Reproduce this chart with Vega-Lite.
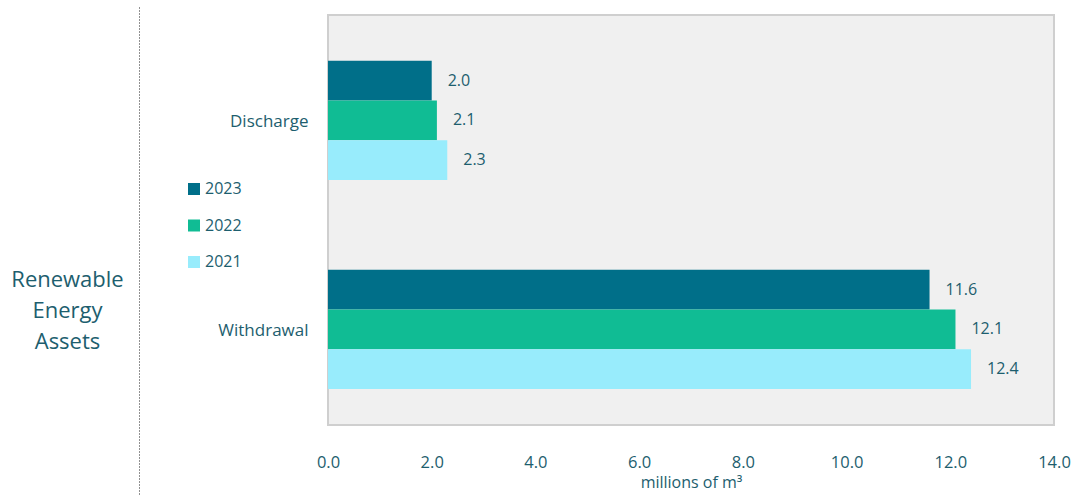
{
  "$schema": "https://vega.github.io/schema/vega-lite/v6.json",
  "width": 726,
  "height": 410,
  "autosize": {"type": "none"},
  "padding": {"left": 328, "top": 15, "right": 21, "bottom": 71},
  "background": "white",
  "config": {
    "font": "Open Sans",
    "view": {"fill": "#f0f0f0", "stroke": "#cfcfcf", "strokeWidth": 2},
    "axis": {"grid": false, "ticks": false, "domain": false, "labelColor": "#1d5e6e", "titleColor": "#1d5e6e", "labelFontSize": 16, "titleFontWeight": "normal"}
  },
  "data": {
    "values": [
      {"type": "Discharge", "year": "2023", "value": 2.0},
      {"type": "Discharge", "year": "2022", "value": 2.1},
      {"type": "Discharge", "year": "2021", "value": 2.3},
      {"type": "Withdrawal", "year": "2023", "value": 11.6},
      {"type": "Withdrawal", "year": "2022", "value": 12.1},
      {"type": "Withdrawal", "year": "2021", "value": 12.4}
    ]
  },
  "layer": [
    {
      "data": {"values": [{"group": "Renewable Energy Assets"}]},
      "mark": {"type": "text", "text": ""},
      "encoding": {
        "y": {
          "field": "group",
          "type": "nominal",
          "scale": {"range": [-8, 480]},
          "axis": {
            "orient": "left",
            "offset": 189,
            "domain": true,
            "domainDash": [1, 2],
            "domainColor": "#222222",
            "domainWidth": 1,
            "labels": false,
            "ticks": false,
            "title": ["Renewable", "Energy", "Assets"],
            "titleAngle": 0,
            "titleAlign": "center",
            "titleBaseline": "middle",
            "titleX": -72,
            "titleY": 264,
            "titleFontSize": 22,
            "titleLineHeight": 31,
            "titleColor": "#1d5e6e"
          }
        }
      }
    },
    {
      "encoding": {
        "y": {
          "field": "type",
          "type": "nominal",
          "scale": {"paddingInner": 0.43, "paddingOuter": 0.196, "align": 0.56},
          "axis": {"orient": "left", "title": null, "labelPadding": 20, "labelFontSize": 17, "labelOffset": 2}
        },
        "yOffset": {
          "field": "year",
          "type": "nominal",
          "sort": ["2023", "2022", "2021"],
          "scale": {"paddingInner": 0, "paddingOuter": 0}
        },
        "x": {
          "field": "value",
          "type": "quantitative",
          "scale": {"domain": [0, 14], "nice": false},
          "axis": {
            "values": [0, 2, 4, 6, 8, 10, 12, 14],
            "format": ".1f",
            "labelFlush": false,
            "labelFontSize": 16.5,
            "labelPadding": 29,
            "title": "millions of m³",
            "titleFontSize": 16,
            "titlePadding": 4
          }
        }
      },
      "layer": [
        {
          "mark": {"type": "bar"},
          "encoding": {
            "color": {
              "field": "year",
              "type": "nominal",
              "scale": {"domain": ["2023", "2022", "2021"], "range": ["#006f89", "#10bc94", "#98ecfc"]},
              "legend": {
                "orient": "none",
                "legendX": -142,
                "legendY": 166,
                "title": null,
                "symbolType": "square",
                "symbolSize": 144,
                "symbolStrokeWidth": 0,
                "labelFontSize": 16,
                "labelColor": "#1d5e6e",
                "labelOffset": 3,
                "rowPadding": 20.5
              }
            }
          }
        },
        {
          "mark": {"type": "text", "align": "left", "baseline": "middle", "dx": 16, "fontSize": 16, "color": "#1d5e6e"},
          "encoding": {
            "text": {"field": "value", "type": "quantitative", "format": ".1f"}
          }
        }
      ]
    }
  ],
  "resolve": {"scale": {"y": "independent"}}
}
